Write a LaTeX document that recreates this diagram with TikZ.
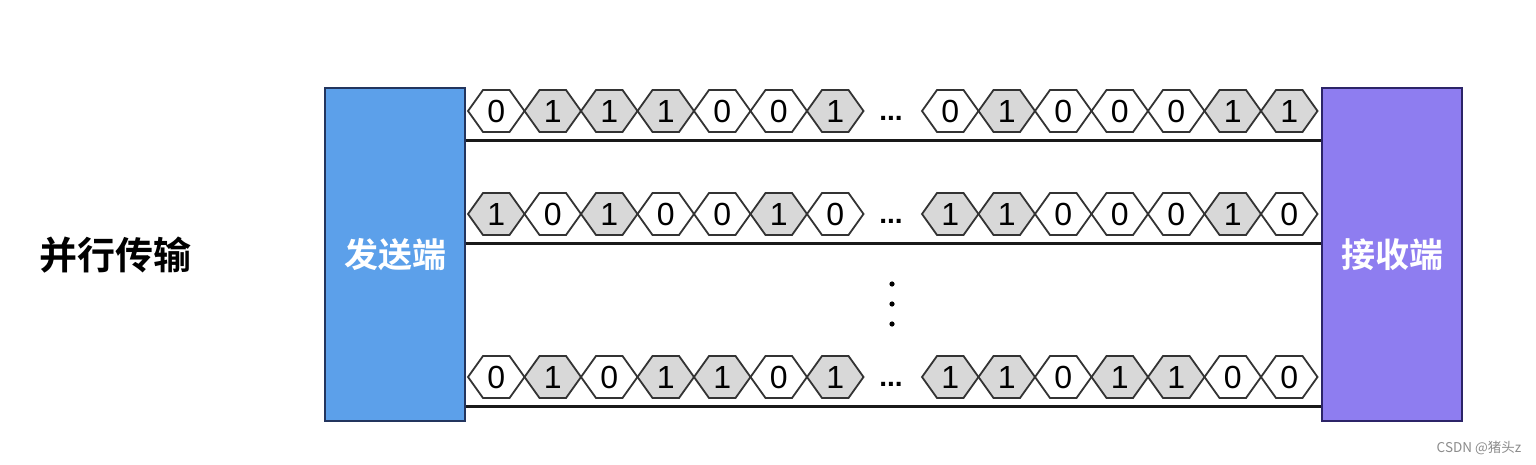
\documentclass[tikz,border=0pt]{standalone}
\usepackage{fontspec}
\setmainfont{Liberation Sans}
\newfontfamily\cjk{Noto Sans CJK SC}[BoldFont={Noto Sans CJK SC Bold}]
\usetikzlibrary{calc}
\definecolor{sendblue}{HTML}{5CA0EA}
\definecolor{sendedge}{HTML}{23355E}
\definecolor{recvpurple}{HTML}{8E7DF0}
\definecolor{recvedge}{HTML}{2C2468}
\definecolor{bitfill0}{HTML}{FFFFFF}
\definecolor{bitfill1}{HTML}{D8D8D8}
\definecolor{hexedge}{HTML}{333333}
\tikzset{
  endbox/.style={draw, line width=2pt, minimum width=140pt, minimum height=333pt, inner sep=0pt,
    text=white, font=\cjk\bfseries\fontsize{34}{34}\selectfont},
  hexline/.style={draw=hexedge, line width=1.8pt, line join=miter},
  bittext/.style={inner sep=0pt, font=\fontsize{32}{32}\selectfont},
  wire/.style={line width=3pt, black!90},
  gapdots/.style={inner sep=0pt, font=\bfseries\fontsize{28}{28}\selectfont},
}
\newcommand\hexrow[4]{%
  \foreach \b [count=\i from 0] in {#4} {
    \pgfmathsetmacro\cx{#2+28.25+56.5*\i}
    \draw[hexline, fill=bitfill\b] (\cx-28.25,#3) -- ++(15,21) -- ++(26.5,0) -- ++(15,-21) -- ++(-15,-21) -- ++(-26.5,0) -- cycle;
    \node[bittext] (#1-\i) at (\cx,#3) {\b};
  }}
\begin{document}
\begin{tikzpicture}[x=1pt,y=1pt]
\useasboundingbox[fill=white] (0,0) rectangle (1536,464);
\node[font=\cjk\bfseries\fontsize{38}{38}\selectfont] (title) at (115,209) {并行传输};
\node[endbox, fill=sendblue, draw=sendedge] (sender) at (395,209.5) {发送端};
\node[endbox, fill=recvpurple, draw=recvedge] (receiver) at (1392,209.5) {接收端};
% wires
\draw[wire] ([yshift=-54pt]sender.north east) -- ([yshift=-54pt]receiver.north west);
\draw[wire] ([yshift=-157pt]sender.north east) -- ([yshift=-157pt]receiver.north west);
\draw[wire] ([yshift=-319pt]sender.north east) -- ([yshift=-319pt]receiver.north west);
% bit rows
\hexrow{aL}{468}{353}{0,1,1,1,0,0,1}
\hexrow{aR}{922}{353}{0,1,0,0,0,1,1}
\hexrow{bL}{468}{250}{1,0,1,0,0,1,0}
\hexrow{bR}{922}{250}{1,1,0,0,0,1,0}
\hexrow{cL}{468}{87}{0,1,0,1,1,0,1}
\hexrow{cR}{922}{87}{1,1,0,1,1,0,0}
\node[gapdots] (gapa) at (891,346) {...};
\node[gapdots] (gapb) at (891,243) {...};
\node[gapdots] (gapc) at (891,80) {...};
% vertical ellipsis
\fill (892,180) circle (2.6pt) (892,160) circle (2.6pt) (892,140) circle (2.6pt);
\node[text=black!45, font=\cjk\fontsize{13.5}{13.5}\selectfont] (mark) at (1479,16) {CSDN @猪头z};
\end{tikzpicture}
\end{document}
